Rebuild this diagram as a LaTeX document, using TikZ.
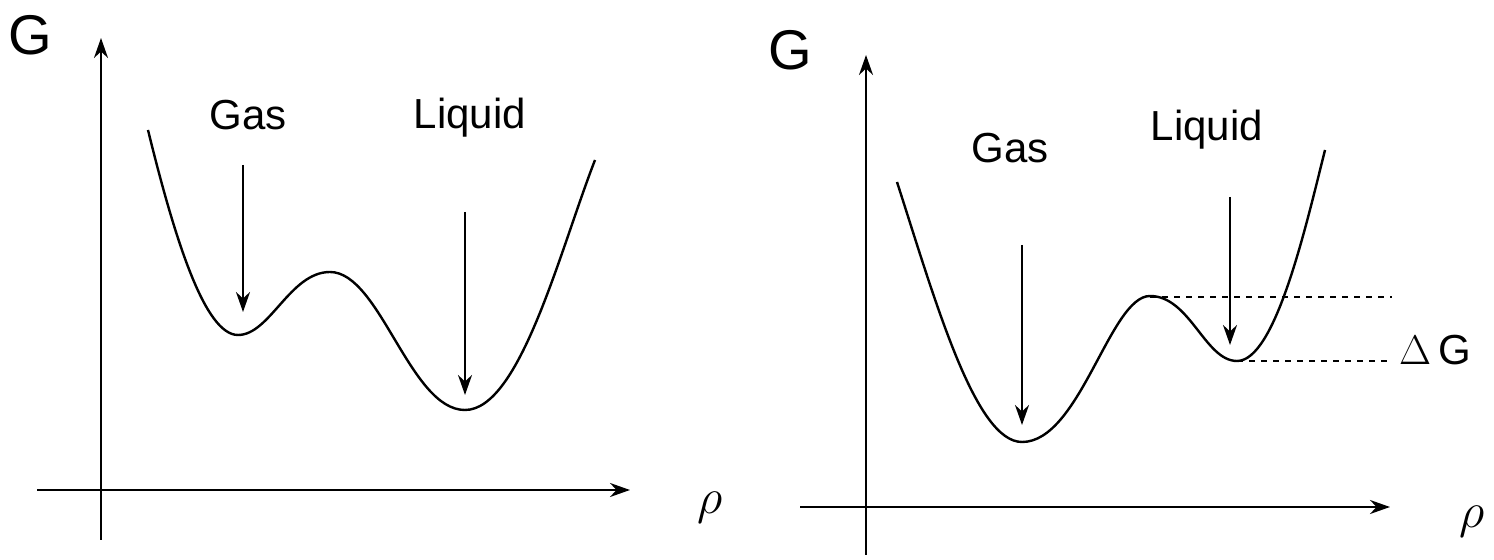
\documentclass[tikz,border=0pt]{standalone}
\usepackage{fontspec}
\setmainfont{Liberation Sans}
\usetikzlibrary{arrows.meta}
\begin{document}
\begin{tikzpicture}[x=0.5pt,y=-0.5pt,
  ax/.style={line width=1.2pt,-{Stealth[length=10pt,width=7pt]}},
  crv/.style={line width=1.2pt},
  lbl/.style={font=\fontsize{21}{24}\selectfont},
  big/.style={font=\fontsize{28}{32}\selectfont}]
\useasboundingbox (0,0) rectangle (1494,560);
% left
\coordinate (ly0) at (101,540); \coordinate (ly1) at (101,38);
\coordinate (lx0) at (37,490); \coordinate (lx1) at (630,490);
\draw[ax] (ly0) -- (ly1);
\draw[ax] (lx0) -- (lx1);
\node[big] (lG) at (30,35) {G};
\node[big] (lr) at (710,508) {$\rho$};
\draw[crv] (148,130) .. controls (175,240) and (205,335) .. (238,335)
  .. controls (270,335) and (290,272) .. (330,272)
  .. controls (380,272) and (410,410) .. (465,410)
  .. controls (520,410) and (560,250) .. (595,160);
\node[lbl] (lgas) at (248,115) {Gas};
\node[lbl] (lliq) at (470,118) {Liquid};
\coordinate (la1) at (243,165); \coordinate (la2) at (243,312);
\coordinate (lb1) at (465,212); \coordinate (lb2) at (465,395);
\draw[ax] (la1) -- (la2);
\draw[ax] (lb1) -- (lb2);
% right
\coordinate (ry0) at (866,555); \coordinate (ry1) at (866,55);
\coordinate (rx0) at (800,507); \coordinate (rx1) at (1390,507);
\draw[ax] (ry0) -- (ry1);
\draw[ax] (rx0) -- (rx1);
\node[big] (rG) at (790,50) {G};
\node[big] (rr) at (1472,522) {$\rho$};
\draw[crv] (897,182) .. controls (935,300) and (975,442) .. (1022,442)
  .. controls (1080,442) and (1110,296) .. (1150,296)
  .. controls (1190,296) and (1205,361) .. (1237,361)
  .. controls (1275,361) and (1305,230) .. (1325,150);
\node[lbl] (rgas) at (1010,148) {Gas};
\node[lbl] (rliq) at (1207,130) {Liquid};
\coordinate (ra1) at (1022,245); \coordinate (ra2) at (1022,425);
\coordinate (rb1) at (1230,197); \coordinate (rb2) at (1230,345);
\draw[ax] (ra1) -- (ra2);
\draw[ax] (rb1) -- (rb2);
\coordinate (d1a) at (1150,297); \coordinate (d1b) at (1392,297);
\coordinate (d2a) at (1237,361); \coordinate (d2b) at (1392,361);
\draw[dashed,line width=0.9pt] (d1a) -- (d1b);
\draw[dashed,line width=0.9pt] (d2a) -- (d2b);
\node[lbl] (dG) at (1435,350) {$\Delta$\,G};
\end{tikzpicture}
\end{document}
